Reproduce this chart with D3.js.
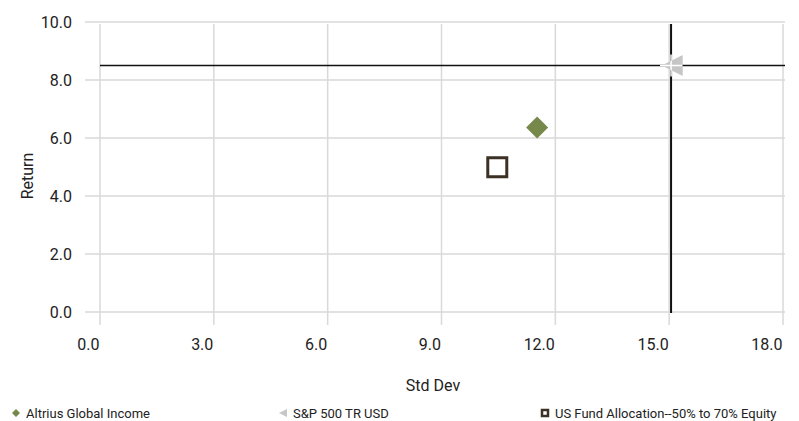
<!DOCTYPE html>
<html>
<head>
<meta charset="utf-8">
<script src="https://cdn.jsdelivr.net/npm/d3@7"></script>
<style>
  body { margin: 0; background: #fff; }
  text { font-family: "Roboto", sans-serif; fill: #222; }
</style>
</head>
<body>
<div id="chart"></div>
<script>
'use strict';

// series (Std Dev, Return)
const names = ['Altrius Global Income', 'S&P 500 TR USD', 'US Fund Allocation--50% to 70% Equity'];
const stdDev = [11.52, 15.08, 10.47];
const returns = [6.36, 8.5, 4.99];
const shapes = ['diamond', 'triangle', 'square'];
const colors = ['#76884a', '#c6c6c6', '#3b3125'];

// reference lines (benchmark)
const refStdDev = 15.05;
const refReturn = 8.5;

const xTicks = [0, 3, 6, 9, 12, 15, 18];
const yTicks = [0, 2, 4, 6, 8, 10];

const width = 799, height = 421;
const margin = {top: 22, right: 16, bottom: 109, left: 100};

const svg = d3.select('#chart').append('svg')
    .attr('width', width)
    .attr('height', height);

const x = d3.scaleLinear().domain([0, 18]).range([margin.left, width - margin.right]);
const y = d3.scaleLinear().domain([0, 10]).range([height - margin.bottom, margin.top]);

// grid
const grid = svg.append('g');
grid.selectAll('.hg').data(yTicks).enter().append('line')
    .attr('x1', x(0) - 15).attr('x2', x(18) + 2)
    .attr('y1', d => y(d)).attr('y2', d => y(d))
    .attr('stroke', '#d9d9d9').attr('stroke-width', 1.5);
grid.selectAll('.vg').data(xTicks).enter().append('line')
    .attr('x1', d => x(d)).attr('x2', d => x(d))
    .attr('y1', y(10) + 2).attr('y2', y(0) + 13)
    .attr('stroke', '#d9d9d9').attr('stroke-width', 1.5);

// axes labels via d3 axis (lines hidden)
const yAxis = svg.append('g')
    .attr('transform', 'translate(' + (x(0) - 28) + ',0)')
    .call(d3.axisLeft(y).tickValues(yTicks).tickFormat(d3.format('.1f')).tickSize(0).tickPadding(0));
yAxis.select('.domain').remove();
yAxis.selectAll('text').style('font-size', '16px').attr('font-family', null).attr('fill', '#222');

// x labels sit right-aligned against their grid line
const xAxis = svg.append('g')
    .attr('transform', 'translate(-1,' + (y(0) + 27) + ')')
    .call(d3.axisBottom(x).tickValues(xTicks).tickFormat(d3.format('.1f')).tickSize(0).tickPadding(0));
xAxis.select('.domain').remove();
xAxis.selectAll('text').style('font-size', '16px').attr('font-family', null)
    .attr('fill', '#222').attr('text-anchor', 'end');

svg.append('text')
    .attr('x', 433).attr('y', 391)
    .attr('text-anchor', 'middle')
    .style('font-size', '16px')
    .text('Std Dev');

svg.append('text')
    .attr('transform', 'translate(33,176) rotate(-90)')
    .attr('text-anchor', 'middle')
    .style('font-size', '16px')
    .text('Return');

// reference lines
svg.append('line')
    .attr('x1', x(0)).attr('x2', x(18) + 2)
    .attr('y1', y(refReturn)).attr('y2', y(refReturn))
    .attr('stroke', '#111').attr('stroke-width', 1.5);
svg.append('line')
    .attr('x1', x(refStdDev)).attr('x2', x(refStdDev))
    .attr('y1', y(10) + 2).attr('y2', y(0) + 1)
    .attr('stroke', '#111').attr('stroke-width', 2);

// markers
function symbolPath(shape, s) {
    if (shape === 'diamond') {
        return 'M0,' + (-s) + 'L' + s + ',0L0,' + s + 'L' + (-s) + ',0Z';
    }
    if (shape === 'triangle') {
        return 'M' + (-s) + ',0L' + s + ',' + (-s) + 'L' + s + ',' + s + 'Z';
    }
    return 'M' + (-s) + ',' + (-s) + 'H' + s + 'V' + s + 'H' + (-s) + 'Z';
}

const data = names.map((n, i) => ({name: n, sd: stdDev[i], ret: returns[i], shape: shapes[i], color: colors[i]}));

const pts = svg.append('g');
pts.selectAll('.pt').data(data).enter().append('path')
    .attr('transform', d => 'translate(' + x(d.sd) + ',' + y(d.ret) + ')')
    .attr('d', d => symbolPath(d.shape, d.shape === 'square' ? 9.5 : (d.shape === 'diamond' ? 11 : 10.5)))
    .attr('fill', d => d.shape === 'square' ? '#fff' : d.color)
    .attr('stroke', d => d.shape === 'square' ? d.color : 'none')
    .attr('stroke-width', 3);

// white cross over benchmark marker
pts.append('path')
    .attr('d', 'M' + (x(refStdDev) - 11) + ',' + y(refReturn) + 'H' + (x(refStdDev) + 11)
        + 'M' + x(refStdDev) + ',' + (y(refReturn) - 11) + 'V' + (y(refReturn) + 11))
    .attr('stroke', '#fff').attr('stroke-width', 1.5);

// legend
const legendX = [16, 283, 545];
const leg = svg.append('g').selectAll('.leg').data(data).enter().append('g')
    .attr('transform', (d, i) => 'translate(' + legendX[i] + ',413)');
leg.append('path')
    .attr('d', d => symbolPath(d.shape, d.shape === 'square' ? 3 : 4))
    .attr('fill', d => d.shape === 'square' ? '#fff' : d.color)
    .attr('stroke', d => d.shape === 'square' ? d.color : 'none')
    .attr('stroke-width', 2.5);
leg.append('text')
    .attr('x', 10).attr('y', 5)
    .style('font-size', '13px')
    .text(d => d.name);
</script>
</body>
</html>
